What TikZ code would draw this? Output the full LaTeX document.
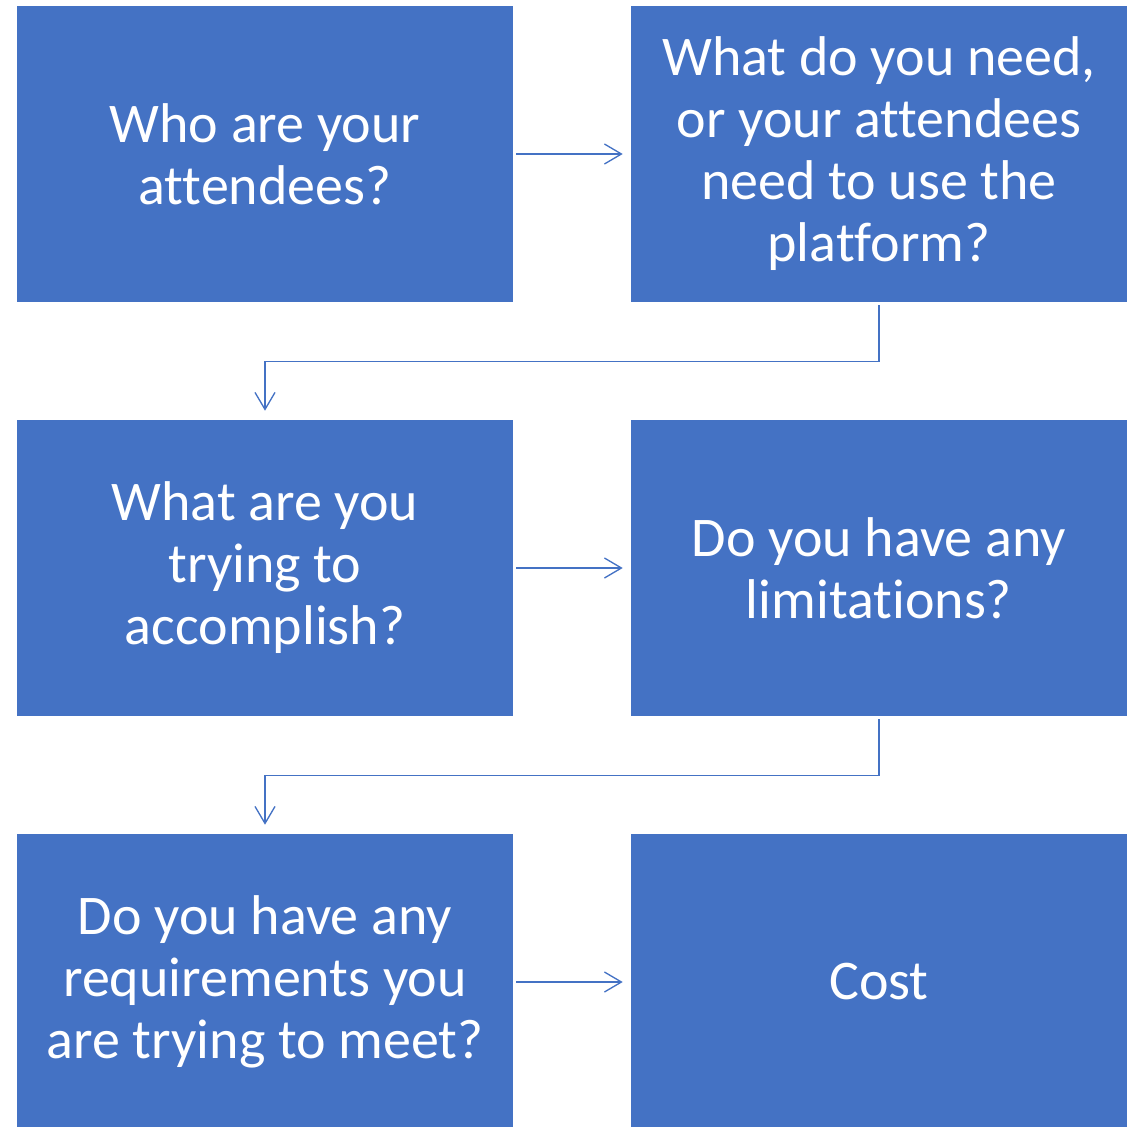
\documentclass[tikz,border=0pt]{standalone}
\usepackage{fontspec}
\setmainfont{Carlito}[Ligatures=NoCommon]
\usetikzlibrary{arrows.meta}
\definecolor{boxblue}{HTML}{4472C4}
\tikzset{
    question/.style={fill=boxblue, draw=none, text=white, align=center,
        minimum width=372pt, minimum height=222pt, inner sep=0pt,
        font=\fontsize{42pt}{46.5pt}\selectfont},
    flow/.style={draw=boxblue, line width=1pt,
        -{Straight Barb[length=12.75pt,width=15pt,line width=1pt]}},
}
\begin{document}
\begin{tikzpicture}[x=0.75pt,y=-0.75pt]
    \useasboundingbox (0,0) rectangle (1127,1127);
    \clip (0,0) rectangle (1127,1127);
    \coordinate (LeftTop)    at (265,154);
    \coordinate (RightTop)   at (879,154);
    \coordinate (LeftMid)    at (265,568);
    \coordinate (RightMid)   at (879,568);
    \coordinate (LeftLow)    at (265,982);
    \coordinate (RightLow)   at (879,982);
    \node [question] (who)   at (LeftTop)  {Who are your\\attendees?};
    \node [question] (need)  at (RightTop) {What do you need,\\or your attendees\\need to use the\\platform?};
    \node [question] (goal)  at (LeftMid)  {What are you\\trying to\\accomplish?};
    \node [question] (limit) at (RightMid) {Do you have any\\limitations?};
    \node [question] (req)   at (LeftLow)  {Do you have any\\requirements you\\are trying to meet?};
    \node [question] (cost)  at (RightLow) {Cost};
    \draw [flow, shorten <=2.25pt, shorten >=6pt] (who) -- (need);% row 1
    \draw [flow, shorten <=2.25pt, shorten >=6.75pt] (need.south) -- ++(0,59) -| (goal.north);% down to row 2
    \draw [flow, shorten <=2.25pt, shorten >=6pt] (goal) -- (limit);% row 2
    \draw [flow, shorten <=2.25pt, shorten >=6.75pt] (limit.south) -- ++(0,59) -| (req.north);% down to row 3
    \draw [flow, shorten <=2.25pt, shorten >=6pt] (req) -- (cost);% row 3
\end{tikzpicture}
\end{document}
